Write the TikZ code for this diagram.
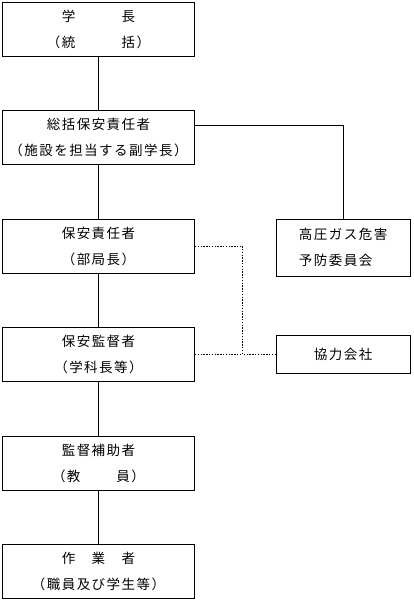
\documentclass[tikz,border=0pt]{standalone}
\usepackage{fontspec}
\newfontfamily\jp[LetterSpace=11]{Noto Sans CJK JP}
\usetikzlibrary{calc}
\tikzset{
	post/.style={draw, line width=0.8pt, minimum width=192pt, minimum height=54pt, inner sep=0pt, align=center, font=\jp\fontsize{13.5}{26}\selectfont},
	side/.style={draw, line width=0.8pt, minimum width=133.7pt, inner sep=0pt, font=\jp\fontsize{13.5}{26}\selectfont},
	link/.style={line width=0.8pt},
	dotlink/.style={line width=0.8pt, dash pattern=on 1.4pt off 1.4pt}
}

\begin{document}
\begin{tikzpicture}[x=1pt, y=-1pt]
			%%%%% START %%%%%
			\useasboundingbox (0, 0) rectangle (413, 601);
			
			\node[post] (gakucho) at (98.5, 29.5) {学　　　長\\（統　　　括）};
			\node[post] (sokatsu) at (98.5, 137.5) {総括保安責任者\\（施設を担当する副学長）};
			\node[post] (sekinin) at (98.5, 246) {保安責任者\\（部局長）};
			\node[post] (kantoku) at (98.5, 354) {保安監督者\\（学科長等）};
			\node[post] (hojo) at (98.5, 463) {監督補助者\\（教\hspace{36pt}員）};
			\node[post] (sagyo) at (98.5, 571.5) {作　業　者\\（職員及び学生等）};
			
			\node[side, minimum height=57.3pt, align=left] (iinkai) at (343.2, 247.7) {高圧ガス危害\\予防委員会};
			\node[side, minimum height=38pt] (kaisha) at (343.2, 354) {協力会社};
			
			\draw[link] (gakucho) -- (sokatsu);
			\draw[link] (sokatsu) -- (sekinin);
			\draw[link] (sekinin) -- (kantoku);
			\draw[link] (kantoku) -- (hojo);
			\draw[link] (hojo) -- (sagyo);
			
			\draw[link] ([yshift=12.2pt]sokatsu.east) -| (iinkai.north);
			
			\coordinate (bend) at (242.3, 354);
			\draw[dotlink] (sekinin.east) -| (bend) -- (kaisha.west);
			\draw[dotlink] (kantoku.east) -- (bend);
			
			%%%%% END %%%%%
\end{tikzpicture}
\end{document}
